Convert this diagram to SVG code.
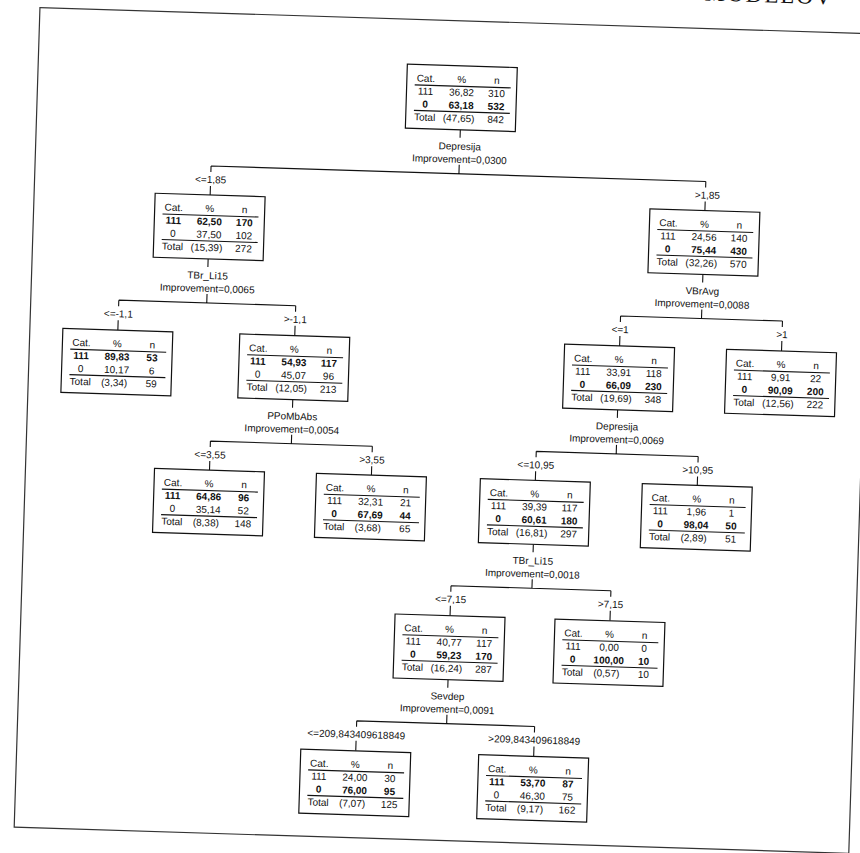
<svg xmlns="http://www.w3.org/2000/svg" width="860" height="853" viewBox="0 0 860 853">
<style>
.box{fill:#fff;stroke:#111;stroke-width:1.2}
.rule{stroke:#111;stroke-width:1.1}
.c{stroke:#111;stroke-width:1.1;fill:none}
.frame{fill:none;stroke:#333;stroke-width:1.2}
.t{font-family:"Liberation Sans",Arial,sans-serif;font-size:10px;fill:#111;text-anchor:middle}
.b{font-weight:bold}
.lbl{font-family:"Liberation Sans",Arial,sans-serif;font-size:10px;fill:#111;text-anchor:middle}
.hdr{font-family:"Liberation Serif","Times New Roman",serif;font-size:23px;fill:#111;text-anchor:end;letter-spacing:2px}
</style>
<rect width="860" height="853" fill="#fff"/>
<g transform="rotate(1.8 430 426)">
<text class="hdr" x="820" y="-8">MODELOV</text>
<rect class="frame" x="27" y="20" width="835" height="820"/>

<g id="connectors">
<path class="c" d="M451 129V137M451 164V173M203 173H698M203 173V179M698 173V179M203 193V202M698 193V202"/>
<path class="c" d="M203 266V274M203 301V310M115 310H292M115 310V316M292 310V316M115 330V340M292 330V340"/>
<path class="c" d="M698 266V274M698 301V310M617 310H779M617 310V316M779 310V316M617 330V340M779 330V340"/>
<path class="c" d="M292 404V412M292 439V448M211 448H373M211 448V454M373 448V454M211 468V477M373 468V477"/>
<path class="c" d="M617 404V412M617 439V448M537 448H699M537 448V454M699 448V454M537 468V477M699 468V477"/>
<path class="c" d="M537 541V549M537 576V585M456 585H616M456 585V591M616 585V591M456 605V615M616 605V615"/>
<path class="c" d="M456 679V687M456 714V723M366 723H544M366 723V729M544 723V729M366 743V753M544 743V753"/>
</g>

<g id="split-labels">
<text class="lbl" x="451" y="149">Depresija</text>
<text class="lbl" x="451" y="162">Improvement=0,0300</text>
<text class="lbl" x="203" y="190">&lt;=1,85</text>
<text class="lbl" x="700" y="190">&gt;1,85</text>

<text class="lbl" x="203" y="286">TBr_Li15</text>
<text class="lbl" x="203" y="299">Improvement=0,0065</text>
<text class="lbl" x="115" y="327">&lt;=-1,1</text>
<text class="lbl" x="292" y="327">&gt;-1,1</text>

<text class="lbl" x="698" y="286">VBrAvg</text>
<text class="lbl" x="698" y="299">Improvement=0,0088</text>
<text class="lbl" x="617" y="327">&lt;=1</text>
<text class="lbl" x="779" y="327">&gt;1</text>

<text class="lbl" x="292" y="424">PPoMbAbs</text>
<text class="lbl" x="292" y="437">Improvement=0,0054</text>
<text class="lbl" x="211" y="465">&lt;=3,55</text>
<text class="lbl" x="373" y="465">&gt;3,55</text>

<text class="lbl" x="617" y="424">Depresija</text>
<text class="lbl" x="617" y="437">Improvement=0,0069</text>
<text class="lbl" x="537" y="465">&lt;=10,95</text>
<text class="lbl" x="699" y="465">&gt;10,95</text>

<text class="lbl" x="537" y="561">TBr_Li15</text>
<text class="lbl" x="537" y="574">Improvement=0,0018</text>
<text class="lbl" x="456" y="602">&lt;=7,15</text>
<text class="lbl" x="616" y="602">&gt;7,15</text>

<text class="lbl" x="456" y="699">Sevdep</text>
<text class="lbl" x="456" y="712">Improvement=0,0091</text>
<text class="lbl" x="366" y="740">&lt;=209,843409618849</text>
<text class="lbl" x="544" y="740">&gt;209,843409618849</text>
</g>

<g id="node-root" transform="translate(396,65)">
<rect class="box" width="110" height="64"/>
<line class="rule" x1="8" y1="20.5" x2="104" y2="20.5"/><line class="rule" x1="8" y1="46" x2="104" y2="46"/>
<text class="t" y="17"><tspan x="19">Cat.</tspan><tspan x="55">%</tspan><tspan x="90">n</tspan></text>
<text class="t" y="30"><tspan x="19">111</tspan><tspan x="55">36,82</tspan><tspan x="90">310</tspan></text>
<text class="t b" y="43"><tspan x="19">0</tspan><tspan x="55">63,18</tspan><tspan x="90">532</tspan></text>
<text class="t" y="56"><tspan x="19">Total</tspan><tspan x="53">(47,65)</tspan><tspan x="90">842</tspan></text>
</g>

<g id="node-1" transform="translate(148,202)">
<rect class="box" width="110" height="64"/>
<line class="rule" x1="8" y1="20.5" x2="104" y2="20.5"/><line class="rule" x1="8" y1="46" x2="104" y2="46"/>
<text class="t" y="17"><tspan x="19">Cat.</tspan><tspan x="55">%</tspan><tspan x="90">n</tspan></text>
<text class="t b" y="30"><tspan x="19">111</tspan><tspan x="55">62,50</tspan><tspan x="90">170</tspan></text>
<text class="t" y="43"><tspan x="19">0</tspan><tspan x="55">37,50</tspan><tspan x="90">102</tspan></text>
<text class="t" y="56"><tspan x="19">Total</tspan><tspan x="53">(15,39)</tspan><tspan x="90">272</tspan></text>
</g>

<g id="node-2" transform="translate(643,202)">
<rect class="box" width="110" height="64"/>
<line class="rule" x1="8" y1="20.5" x2="104" y2="20.5"/><line class="rule" x1="8" y1="46" x2="104" y2="46"/>
<text class="t" y="17"><tspan x="19">Cat.</tspan><tspan x="55">%</tspan><tspan x="90">n</tspan></text>
<text class="t" y="30"><tspan x="19">111</tspan><tspan x="55">24,56</tspan><tspan x="90">140</tspan></text>
<text class="t b" y="43"><tspan x="19">0</tspan><tspan x="55">75,44</tspan><tspan x="90">430</tspan></text>
<text class="t" y="56"><tspan x="19">Total</tspan><tspan x="53">(32,26)</tspan><tspan x="90">570</tspan></text>
</g>

<g id="node-3" transform="translate(60,340)">
<rect class="box" width="110" height="64"/>
<line class="rule" x1="8" y1="20.5" x2="104" y2="20.5"/><line class="rule" x1="8" y1="46" x2="104" y2="46"/>
<text class="t" y="17"><tspan x="19">Cat.</tspan><tspan x="55">%</tspan><tspan x="90">n</tspan></text>
<text class="t b" y="30"><tspan x="19">111</tspan><tspan x="55">89,83</tspan><tspan x="90">53</tspan></text>
<text class="t" y="43"><tspan x="19">0</tspan><tspan x="55">10,17</tspan><tspan x="90">6</tspan></text>
<text class="t" y="56"><tspan x="19">Total</tspan><tspan x="53">(3,34)</tspan><tspan x="90">59</tspan></text>
</g>

<g id="node-4" transform="translate(237,340)">
<rect class="box" width="110" height="64"/>
<line class="rule" x1="8" y1="20.5" x2="104" y2="20.5"/><line class="rule" x1="8" y1="46" x2="104" y2="46"/>
<text class="t" y="17"><tspan x="19">Cat.</tspan><tspan x="55">%</tspan><tspan x="90">n</tspan></text>
<text class="t b" y="30"><tspan x="19">111</tspan><tspan x="55">54,93</tspan><tspan x="90">117</tspan></text>
<text class="t" y="43"><tspan x="19">0</tspan><tspan x="55">45,07</tspan><tspan x="90">96</tspan></text>
<text class="t" y="56"><tspan x="19">Total</tspan><tspan x="53">(12,05)</tspan><tspan x="90">213</tspan></text>
</g>

<g id="node-5" transform="translate(562,340)">
<rect class="box" width="110" height="64"/>
<line class="rule" x1="8" y1="20.5" x2="104" y2="20.5"/><line class="rule" x1="8" y1="46" x2="104" y2="46"/>
<text class="t" y="17"><tspan x="19">Cat.</tspan><tspan x="55">%</tspan><tspan x="90">n</tspan></text>
<text class="t" y="30"><tspan x="19">111</tspan><tspan x="55">33,91</tspan><tspan x="90">118</tspan></text>
<text class="t b" y="43"><tspan x="19">0</tspan><tspan x="55">66,09</tspan><tspan x="90">230</tspan></text>
<text class="t" y="56"><tspan x="19">Total</tspan><tspan x="53">(19,69)</tspan><tspan x="90">348</tspan></text>
</g>

<g id="node-6" transform="translate(724,340)">
<rect class="box" width="110" height="64"/>
<line class="rule" x1="8" y1="20.5" x2="104" y2="20.5"/><line class="rule" x1="8" y1="46" x2="104" y2="46"/>
<text class="t" y="17"><tspan x="19">Cat.</tspan><tspan x="55">%</tspan><tspan x="90">n</tspan></text>
<text class="t" y="30"><tspan x="19">111</tspan><tspan x="55">9,91</tspan><tspan x="90">22</tspan></text>
<text class="t b" y="43"><tspan x="19">0</tspan><tspan x="55">90,09</tspan><tspan x="90">200</tspan></text>
<text class="t" y="56"><tspan x="19">Total</tspan><tspan x="53">(12,56)</tspan><tspan x="90">222</tspan></text>
</g>

<g id="node-7" transform="translate(156,477)">
<rect class="box" width="110" height="64"/>
<line class="rule" x1="8" y1="20.5" x2="104" y2="20.5"/><line class="rule" x1="8" y1="46" x2="104" y2="46"/>
<text class="t" y="17"><tspan x="19">Cat.</tspan><tspan x="55">%</tspan><tspan x="90">n</tspan></text>
<text class="t b" y="30"><tspan x="19">111</tspan><tspan x="55">64,86</tspan><tspan x="90">96</tspan></text>
<text class="t" y="43"><tspan x="19">0</tspan><tspan x="55">35,14</tspan><tspan x="90">52</tspan></text>
<text class="t" y="56"><tspan x="19">Total</tspan><tspan x="53">(8,38)</tspan><tspan x="90">148</tspan></text>
</g>

<g id="node-8" transform="translate(318,477)">
<rect class="box" width="110" height="64"/>
<line class="rule" x1="8" y1="20.5" x2="104" y2="20.5"/><line class="rule" x1="8" y1="46" x2="104" y2="46"/>
<text class="t" y="17"><tspan x="19">Cat.</tspan><tspan x="55">%</tspan><tspan x="90">n</tspan></text>
<text class="t" y="30"><tspan x="19">111</tspan><tspan x="55">32,31</tspan><tspan x="90">21</tspan></text>
<text class="t b" y="43"><tspan x="19">0</tspan><tspan x="55">67,69</tspan><tspan x="90">44</tspan></text>
<text class="t" y="56"><tspan x="19">Total</tspan><tspan x="53">(3,68)</tspan><tspan x="90">65</tspan></text>
</g>

<g id="node-9" transform="translate(482,477)">
<rect class="box" width="110" height="64"/>
<line class="rule" x1="8" y1="20.5" x2="104" y2="20.5"/><line class="rule" x1="8" y1="46" x2="104" y2="46"/>
<text class="t" y="17"><tspan x="19">Cat.</tspan><tspan x="55">%</tspan><tspan x="90">n</tspan></text>
<text class="t" y="30"><tspan x="19">111</tspan><tspan x="55">39,39</tspan><tspan x="90">117</tspan></text>
<text class="t b" y="43"><tspan x="19">0</tspan><tspan x="55">60,61</tspan><tspan x="90">180</tspan></text>
<text class="t" y="56"><tspan x="19">Total</tspan><tspan x="53">(16,81)</tspan><tspan x="90">297</tspan></text>
</g>

<g id="node-10" transform="translate(644,477)">
<rect class="box" width="110" height="64"/>
<line class="rule" x1="8" y1="20.5" x2="104" y2="20.5"/><line class="rule" x1="8" y1="46" x2="104" y2="46"/>
<text class="t" y="17"><tspan x="19">Cat.</tspan><tspan x="55">%</tspan><tspan x="90">n</tspan></text>
<text class="t" y="30"><tspan x="19">111</tspan><tspan x="55">1,96</tspan><tspan x="90">1</tspan></text>
<text class="t b" y="43"><tspan x="19">0</tspan><tspan x="55">98,04</tspan><tspan x="90">50</tspan></text>
<text class="t" y="56"><tspan x="19">Total</tspan><tspan x="53">(2,89)</tspan><tspan x="90">51</tspan></text>
</g>

<g id="node-11" transform="translate(401,615)">
<rect class="box" width="110" height="64"/>
<line class="rule" x1="8" y1="20.5" x2="104" y2="20.5"/><line class="rule" x1="8" y1="46" x2="104" y2="46"/>
<text class="t" y="17"><tspan x="19">Cat.</tspan><tspan x="55">%</tspan><tspan x="90">n</tspan></text>
<text class="t" y="30"><tspan x="19">111</tspan><tspan x="55">40,77</tspan><tspan x="90">117</tspan></text>
<text class="t b" y="43"><tspan x="19">0</tspan><tspan x="55">59,23</tspan><tspan x="90">170</tspan></text>
<text class="t" y="56"><tspan x="19">Total</tspan><tspan x="53">(16,24)</tspan><tspan x="90">287</tspan></text>
</g>

<g id="node-12" transform="translate(561,615)">
<rect class="box" width="110" height="64"/>
<line class="rule" x1="8" y1="20.5" x2="104" y2="20.5"/><line class="rule" x1="8" y1="46" x2="104" y2="46"/>
<text class="t" y="17"><tspan x="19">Cat.</tspan><tspan x="55">%</tspan><tspan x="90">n</tspan></text>
<text class="t" y="30"><tspan x="19">111</tspan><tspan x="55">0,00</tspan><tspan x="90">0</tspan></text>
<text class="t b" y="43"><tspan x="19">0</tspan><tspan x="55">100,00</tspan><tspan x="90">10</tspan></text>
<text class="t" y="56"><tspan x="19">Total</tspan><tspan x="53">(0,57)</tspan><tspan x="90">10</tspan></text>
</g>

<g id="node-13" transform="translate(311,753)">
<rect class="box" width="110" height="64"/>
<line class="rule" x1="8" y1="20.5" x2="104" y2="20.5"/><line class="rule" x1="8" y1="46" x2="104" y2="46"/>
<text class="t" y="17"><tspan x="19">Cat.</tspan><tspan x="55">%</tspan><tspan x="90">n</tspan></text>
<text class="t" y="30"><tspan x="19">111</tspan><tspan x="55">24,00</tspan><tspan x="90">30</tspan></text>
<text class="t b" y="43"><tspan x="19">0</tspan><tspan x="55">76,00</tspan><tspan x="90">95</tspan></text>
<text class="t" y="56"><tspan x="19">Total</tspan><tspan x="53">(7,07)</tspan><tspan x="90">125</tspan></text>
</g>

<g id="node-14" transform="translate(489,753)">
<rect class="box" width="110" height="64"/>
<line class="rule" x1="8" y1="20.5" x2="104" y2="20.5"/><line class="rule" x1="8" y1="46" x2="104" y2="46"/>
<text class="t" y="17"><tspan x="19">Cat.</tspan><tspan x="55">%</tspan><tspan x="90">n</tspan></text>
<text class="t b" y="30"><tspan x="19">111</tspan><tspan x="55">53,70</tspan><tspan x="90">87</tspan></text>
<text class="t" y="43"><tspan x="19">0</tspan><tspan x="55">46,30</tspan><tspan x="90">75</tspan></text>
<text class="t" y="56"><tspan x="19">Total</tspan><tspan x="53">(9,17)</tspan><tspan x="90">162</tspan></text>
</g>
</g>
</svg>
